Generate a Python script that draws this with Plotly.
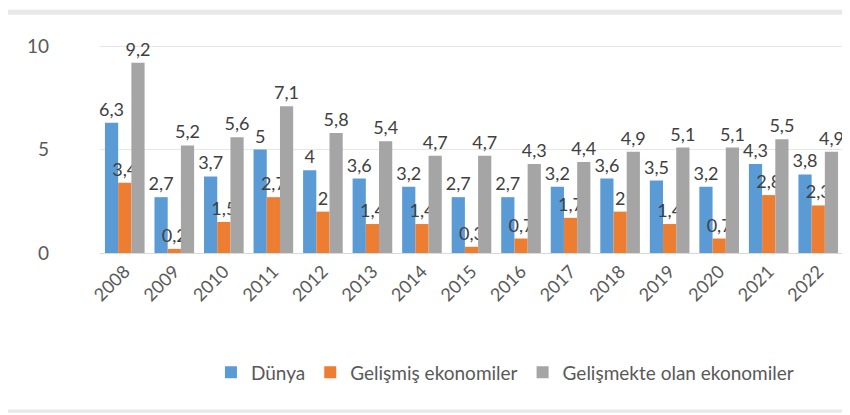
import plotly.graph_objects as go

years = ["2008", "2009", "2010", "2011", "2012", "2013", "2014", "2015",
         "2016", "2017", "2018", "2019", "2020", "2021", "2022"]
dunya = [6.3, 2.7, 3.7, 5, 4, 3.6, 3.2, 2.7, 2.7, 3.2, 3.6, 3.5, 3.2, 4.3, 3.8]
gelismis = [3.4, 0.2, 1.5, 2.7, 2, 1.4, 1.4, 0.3, 0.7, 1.7, 2, 1.4, 0.7, 2.8, 2.3]
gelismekte = [9.2, 5.2, 5.6, 7.1, 5.8, 5.4, 4.7, 4.7, 4.3, 4.4, 4.9, 5.1, 5.1, 5.5, 4.9]

series = [
    ("Dünya", dunya, "#5B9BD5"),
    ("Gelişmiş ekonomiler", gelismis, "#ED7D31"),
    ("Gelişmekte olan ekonomiler", gelismekte, "#A5A5A5"),
]


def fmt(v):
    return (f"{v:g}").replace(".", ",")


fig = go.Figure()
for name, vals, color in series:
    fig.add_trace(go.Bar(
        x=years, y=vals, name=name,
        marker=dict(color=color, line=dict(width=0)),
        text=[fmt(v) for v in vals],
        textposition="outside",
        constraintext="none",
        cliponaxis=False,
        textfont=dict(size=18, color="#404040"),
    ))

fig.update_layout(
    width=850, height=415,
    barmode="group",
    bargap=0.2, bargroupgap=0.0,
    paper_bgcolor="white", plot_bgcolor="white",
    font=dict(family="Lato, Open Sans, sans-serif", color="#595959"),
    margin=dict(l=92, r=15, t=32, b=170),
    showlegend=True,
    legend=dict(orientation="h", x=0.545, xanchor="center", y=-0.56, yanchor="middle",
                font=dict(size=19, color="#595959"), itemwidth=30),
    xaxis=dict(tickangle=-45, tickfont=dict(size=18, color="#595959"),
               showline=True, linecolor="#d9d9d9", ticks=""),
    yaxis=dict(range=[0, 10.3], tickvals=[0, 5, 10], tickfont=dict(size=19, color="#595959"),
               showgrid=True, gridcolor="#e6e6e6", zeroline=False, ticks="",
               ticklabelstandoff=50),
    shapes=[
        dict(type="line", xref="paper", yref="paper", x0=-0.2, x1=1.1, y0=1.13, y1=1.13,
             line=dict(color="#e8e8e8", width=5)),
        dict(type="rect", xref="paper", yref="paper", x0=-0.2, x1=1.1, y0=-0.735, y1=-0.75,
             fillcolor="#e8e8e8", line=dict(width=0)),
    ],
)

fig.write_html("out.html")
